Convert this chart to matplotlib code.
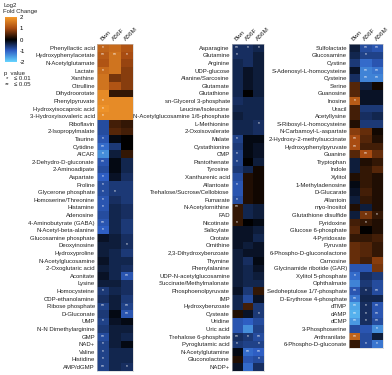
import numpy as np
import matplotlib
matplotlib.use('Agg')
import matplotlib.pyplot as plt
from matplotlib.colors import LinearSegmentedColormap

# ─── data ─────────────────────────────────────────────────────────────────────
COLUMNS = ['Bwn', 'A56F', 'A56M']

LABELS_1 = ['Phenyllactic acid', 'Hydroxyphenylacetate', 'N-Acetylglutamate', 'Lactate',
            'Xanthine', 'Citrulline', 'Dihydroorotate', 'Phenylpyruvate',
            'Hydroxyisocaproic acid', '3-Hydroxyisovaleric acid', 'Riboflavin',
            '2-Isopropylmalate', 'Taurine', 'Cytidine', 'AICAR', '2-Dehydro-D-gluconate',
            '2-Aminoadipate', 'Aspartate', 'Proline', 'Glycerone phosphate',
            'Homoserine/Threonine', 'Histamine', 'Adenosine', '4-Aminobutyrate (GABA)',
            'N-Acetyl-beta-alanine', 'Glucosamine phosphate', 'Deoxyinosine',
            'Hydroxyproline', 'N-Acetylglucosamine', '2-Oxoglutaric acid', 'Aconitate',
            'Lysine', 'Homocysteine', 'CDP-ethanolamine', 'Ribose phosphate',
            'D-Gluconate', 'UMP', 'N-N Dimethylarginine', 'GMP', 'NAD+', 'Valine',
            'Histidine', 'AMP/dGMP']
VALUES_1 = [[1.3, 1.4, 1.1], [1.2, 1.5, 1.0], [1.1, 1.5, 0.9], [1.4, 1.5, 0.8],
            [1.5, 0.7, 0.8], [1.5, 1.1, 0.8], [1.8, 0.3, 0.3], [1.8, 1.8, 1.8],
            [1.9, 1.8, 1.8], [1.8, 1.8, 1.8], [-0.8, 0.4, 0.3], [-0.8, 0.5, 0.4],
            [-0.9, -0.1, 0.0], [-1.1, -0.6, 0.0], [-1.4, -0.3, 0.3], [-0.9, -0.1, -0.4],
            [-0.8, -0.1, -0.4], [-1.0, -0.2, -0.5], [-0.8, -0.6, -0.6], [-0.8, -0.6, -0.6],
            [-0.9, -0.5, -0.6], [-0.9, -0.4, -0.5], [-0.8, -0.4, -0.5], [-0.9, -0.4, -0.6],
            [-1.0, -0.4, -0.6], [-0.2, -0.3, -0.5], [-0.3, -0.3, -0.5], [-0.3, -0.4, -0.6],
            [-0.2, -0.4, -0.4], [-0.3, -0.4, -0.5], [-0.2, -0.4, -0.9], [-0.3, -0.3, -0.5],
            [-0.6, -0.4, -0.5], [-0.5, -0.3, -0.6], [-0.7, -0.3, -0.7], [-0.6, -0.1, -0.9],
            [-0.7, -0.2, -0.1], [-0.6, -0.3, -0.3], [-0.8, -0.3, -0.4], [-0.7, -0.3, -0.1],
            [-0.7, -0.4, -0.4], [-0.7, -0.4, -0.4], [-0.7, -0.4, -0.5]]
STARS_1 = [['*', '', ''], ['**', '**', '*'], ['', '', ''], ['*', '', ''], ['', '', ''],
           ['', '', ''], ['', '', ''], ['*', '', ''], ['*', '', ''], ['*', '', ''],
           ['', '', ''], ['', '', ''], ['*', '', ''], ['**', '', ''], ['*', '', ''],
           ['**', '', ''], ['', '', ''], ['*', '', ''], ['*', '', ''], ['*', '*', ''],
           ['*', '', ''], ['*', '', ''], ['', '', ''], ['**', '', ''], ['*', '', ''],
           ['', '', ''], ['', '', '*'], ['', '', ''], ['', '', ''], ['', '', ''],
           ['', '', '**'], ['', '', ''], ['*', '', ''], ['', '', ''], ['**', '', '**'],
           ['', '', '**'], ['*', '', ''], ['', '', ''], ['**', '', ''], ['*', '', ''],
           ['*', '', ''], ['*', '', ''], ['**', '', '*']]

LABELS_2 = ['Asparagine', 'Glutamine', 'Arginine', 'UDP-glucose', 'Alanine/Sarcosine',
            'Glutamate', 'Glutathione', 'sn-Glycerol 3-phosphate', 'Leucine/Isoleucine',
            'N-Acetylglucosamine 1/6-phosphate', 'L-Methionine', '2-Oxoisovalerate',
            'Malate', 'Cystathionine', 'CMP', 'Pantothenate', 'Tyrosine',
            'Xanthurenic acid', 'Allantoate', 'Trehalose/Sucrose/Cellobiose', 'Fumarate',
            'N-Acetylornithine', 'FAD', 'Nicotinate', 'Salicylate', 'Orotate', 'Ornithine',
            '2,3-Dihydroxybenzoate', 'Thymine', 'Phenylalanine', 'UDP-N-acetylglucosamine',
            'Succinate/Methylmalonate', 'Phosphoenolpyruvate', 'IMP', 'Hydroxybenzoate',
            'Cysteate', 'Uridine', 'Uric acid', 'Trehalose 6-phosphate',
            'Pyroglutamic acid', 'N-Acetylglutamine', 'Gluconolactone', 'NADP+']
VALUES_2 = [[-0.5, -0.5, -0.4], [-0.5, -0.5, -0.3], [-0.4, -0.5, -0.3], [-0.4, -0.2, -0.3],
            [-0.4, -0.2, -0.3], [-0.4, -0.2, -0.3], [-0.4, 0.0, -0.3], [-0.5, -0.4, -0.4],
            [-0.4, -0.4, -0.4], [-0.3, -0.4, -0.4], [-0.4, -0.4, -0.5], [-0.4, -0.4, -0.5],
            [-0.7, -0.1, -0.1], [-0.6, -0.1, -0.2], [-0.7, -0.1, -0.2], [-0.7, 0.0, -0.3],
            [-0.6, -0.4, 0.1], [-0.8, 0.2, 0.1], [-0.9, 0.2, 0.1], [-0.9, 0.2, 0.1],
            [-0.8, 0.2, 0.1], [0.3, -0.4, -0.3], [0.3, -0.4, -0.3], [0.3, 0.0, -0.1],
            [-0.2, -0.2, -0.3], [-0.2, -0.2, -0.4], [-0.2, -0.3, -0.2], [-0.3, -0.2, -0.2],
            [-0.3, -0.5, -0.1], [-0.3, -0.4, -0.2], [-0.3, -0.4, -0.3], [-0.3, -0.4, -0.4],
            [-0.2, -0.6, 0.3], [-0.4, -0.8, -0.2], [-0.4, 0.4, -0.6], [0.2, -0.2, -0.6],
            [-0.9, -1.0, -0.8], [-0.9, -1.4, -0.7], [-0.5, -0.6, -0.8], [-0.6, -0.7, -0.7],
            [-0.1, -1.1, -1.0], [0.2, -0.9, -0.8], [-0.2, -1.1, -0.5]]
STARS_2 = [['**', '*', '*'], ['*', '', ''], ['', '', ''], ['', '', ''], ['', '', ''],
           ['', '', ''], ['', '', ''], ['', '', ''], ['', '', ''], ['', '', ''],
           ['', '', '*'], ['', '', ''], ['*', '', ''], ['', '', ''], ['*', '', ''],
           ['*', '', ''], ['', '', ''], ['', '', ''], ['*', '', ''], ['', '', ''],
           ['*', '', ''], ['**', '', ''], ['', '', ''], ['*', '', ''], ['', '', ''],
           ['', '', ''], ['', '', ''], ['', '', ''], ['', '', ''], ['', '', ''],
           ['', '', ''], ['', '', ''], ['', '', ''], ['', '', ''], ['', '', ''],
           ['', '', '*'], ['', '', ''], ['', '', ''], ['**', '*', '**'], ['*', '', '*'],
           ['', '**', '**'], ['', '', '*'], ['', '', '']]

LABELS_3 = ['Sulfolactate', 'Glucosamine', 'Cystine', 'S-Adenosyl-L-homocysteine',
            'Cysteine', 'Serine', 'Guanosine', 'Inosine', 'Uracil', 'Acetyllysine',
            'S-Ribosyl-L-homocysteine', 'N-Carbamoyl-L-aspartate',
            '2-Hydroxy-2-methylsuccinate', 'Hydroxyphenylpyruvate', 'Guanine',
            'Tryptophan', 'Indole', 'Xylitol', '1-Methyladenosine', 'D-Glucarate',
            'Allantoin', 'myo-Inositol', 'Glutathione disulfide', 'Pyridoxine',
            'Glucose 6-phosphate', '4-Pyridoxate', 'Pyruvate',
            '6-Phospho-D-gluconolactone', 'Carnosine', 'Glycinamide ribotide (GAR)',
            'Xylitol 5-phosphate', 'Ophthalmate', 'Sedoheptulose 1/7-phosphate',
            'D-Erythrose 4-phosphate', 'dTMP', 'dAMP', 'dCMP', '3-Phosphoserine',
            'Anthranilate', '6-Phospho-D-gluconate']
VALUES_3 = [[-0.3, -0.8, -0.9], [-0.4, -0.7, -0.7], [-0.6, -1.1, -0.9], [-0.2, -1.3, -1.2],
            [-0.5, -1.3, -1.3], [0.5, -0.3, 0.1], [0.5, -0.2, -0.2], [1.2, -0.2, -0.2],
            [0.4, -0.6, -0.6], [0.4, -0.5, -0.4], [0.2, -0.6, -0.6], [0.8, 0.6, 0.1],
            [1.0, 0.5, 0.2], [1.0, 0.4, 0.4], [0.5, 1.0, 0.6], [-0.3, 0.2, 0.3],
            [-0.3, 0.3, 0.5], [0.2, 0.3, 0.2], [-0.1, 0.3, 0.2], [-0.2, 0.4, 0.2],
            [-0.3, 0.3, 0.2], [0.2, -0.3, 0.2], [-0.3, 0.7, 0.3], [0.4, 0.3, 0.2],
            [0.5, 0.0, 0.2], [0.3, 0.3, 0.4], [0.6, 0.5, 0.3], [0.6, 0.5, 0.3],
            [0.6, 0.4, 0.8], [-0.9, -0.9, 0.7], [-1.1, -0.5, -0.6], [-1.3, -0.6, -0.8],
            [-0.9, -0.5, -0.8], [-1.2, -0.4, -0.4], [-1.6, -0.5, -0.9], [-1.7, -0.5, -0.9],
            [-1.5, -0.5, -0.8], [-0.8, -0.9, -1.4], [1.3, -0.8, -0.3], [0.3, -0.8, -1.2]]
STARS_3 = [['', '**', '**'], ['', '*', ''], ['', '', ''], ['', '**', '**'], ['', '**', '**'],
           ['', '', ''], ['', '', ''], ['*', '', ''], ['', '', ''], ['', '', ''],
           ['', '', ''], ['', '', ''], ['**', '', ''], ['**', '', ''], ['', '**', ''],
           ['', '', ''], ['', '', ''], ['', '', ''], ['', '', ''], ['', '', ''],
           ['', '', ''], ['', '', ''], ['', '*', '*'], ['', '*', ''], ['', '', ''],
           ['', '', ''], ['', '', ''], ['', '', ''], ['', '', ''], ['', '', ''],
           ['*', '', ''], ['', '', ''], ['**', '*', '**'], ['**', '', ''], ['**', '*', '**'],
           ['**', '*', '**'], ['**', '*', '**'], ['', '', '*'], ['**', '', ''], ['', '*', '*']]

# ─── style ────────────────────────────────────────────────────────────────────
plt.rcParams['font.family'] = ['Liberation Sans', 'DejaVu Sans']
CMAP = LinearSegmentedColormap.from_list(
    'bbo', [(0.0, '#66d4ff'), (0.25, '#2f5fc4'), (0.5, '#000000'),
            (0.75, '#a84c12'), (1.0, '#f59a2c')])
VMIN, VMAX = -2, 2
FS = 4.3
TXT = '#222222'
ROW_H = 7.6 / 375  # figure fraction per row
TOP = 1 - 44 / 375

fig = plt.figure(figsize=(3.92, 3.75), dpi=100)


def draw_panel(left, width, labels, values, stars):
    n = len(labels)
    ax = fig.add_axes([left, TOP - n * ROW_H, width, n * ROW_H])
    data = np.array(values)
    ax.imshow(data, cmap=CMAP, vmin=VMIN, vmax=VMAX, aspect='auto',
              interpolation='nearest')
    ax.set_yticks(range(n))
    ax.set_yticklabels(labels, fontsize=FS, color=TXT)
    ax.set_xticks(range(len(COLUMNS)))
    ax.set_xticklabels(COLUMNS, fontsize=FS + 0.3, rotation=45, ha='left',
                       rotation_mode='anchor', color=TXT)
    ax.xaxis.tick_top()
    ax.tick_params(length=0, pad=1.5)
    for s in ax.spines.values():
        s.set_linewidth(0.4)
        s.set_color('#cccccc')
    for i in range(n):
        for j in range(len(COLUMNS)):
            if stars[i][j]:
                ax.text(j, i - 0.05, stars[i][j], ha='center', va='center',
                        fontsize=3.6, color='white')
    return ax


draw_panel(97 / 392, 36 / 392, LABELS_1, VALUES_1, STARS_1)
draw_panel(232 / 392, 32 / 392, LABELS_2, VALUES_2, STARS_2)
draw_panel(349 / 392, 34 / 392, LABELS_3, VALUES_3, STARS_3)

# colorbar
cax = fig.add_axes([5 / 392, 1 - 62 / 375, 12 / 392, 45 / 375])
grad = np.linspace(VMAX, VMIN, 200).reshape(-1, 1)
cax.imshow(grad, cmap=CMAP, vmin=VMIN, vmax=VMAX, aspect='auto',
           extent=[0, 1, VMIN, VMAX])
cax.set_xticks([])
cax.yaxis.tick_right()
cax.set_yticks([2, 1, 0, -1, -2])
cax.set_yticklabels(['2', '1', '0', '-1', '-2'], fontsize=FS)
cax.tick_params(length=0, pad=2)
for s in cax.spines.values():
    s.set_visible(False)

fig.text(3 / 392, 1 - 5 / 375, 'Log2', fontsize=FS, va='center', color=TXT)
fig.text(3 / 392, 1 - 12 / 375, 'Fold Change', fontsize=FS, va='center', color=TXT)
fig.text(4 / 392, 1 - 73 / 375, 'p  value', fontsize=FS, va='center', color=TXT)
fig.text(6 / 392, 1 - 79 / 375, '*', fontsize=FS, va='center', color=TXT)
fig.text(14 / 392, 1 - 79 / 375, '\u2264 0.01', fontsize=FS, va='center', color=TXT)
fig.text(5 / 392, 1 - 85 / 375, '**', fontsize=FS, va='center', color=TXT)
fig.text(14 / 392, 1 - 85 / 375, '\u2264 0.05', fontsize=FS, va='center', color=TXT)

fig.savefig('out.png', dpi=100)
